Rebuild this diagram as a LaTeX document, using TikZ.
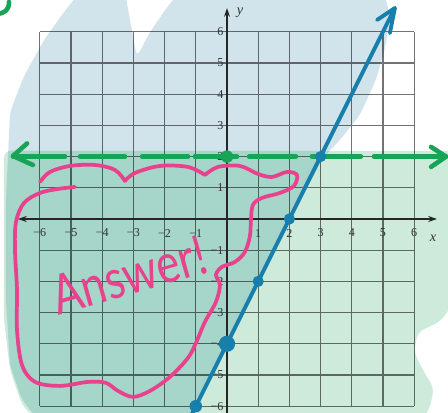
\documentclass[tikz,border=0pt]{standalone}
\usepackage{fontspec}
\setmainfont{Liberation Serif}
\newfontfamily\handfont{Lato}
\usetikzlibrary{arrows.meta}
\definecolor{bluewash}{RGB}{209,228,236}
\definecolor{greenwash}{RGB}{205,234,218}
\definecolor{tealwash}{RGB}{166,214,201}
\definecolor{lineblue}{RGB}{24,127,172}
\definecolor{dashgreen}{RGB}{24,164,86}
\definecolor{inkpink}{RGB}{232,66,140}
\definecolor{labelgray}{RGB}{50,50,50}
\tikzset{
  gridline/.style={black, draw opacity=0.55, line width=1.15pt},
  axisline/.style={black!85, line width=1pt},
  axistip/.style={arrows={-{Stealth[length=8pt,width=5.5pt]}}},
  ticklabel/.style={text=labelgray, font=\fontsize{11}{11}\selectfont, inner sep=0pt},
  axislabel/.style={text=labelgray, font=\fontsize{13}{13}\selectfont\itshape, inner sep=0pt},
  bluestroke/.style={lineblue, line width=3.6pt, line cap=round, line join=round},
  greenstroke/.style={dashgreen, line width=4.2pt, line cap=round, line join=round},
  pinkstroke/.style={inkpink, line width=3.4pt, line cap=round, line join=round},
  pxscope/.style={shift={(-7.276,7.019)}, x=0.032051cm, y=-0.032051cm},
  washshape/.style={rounded corners=6pt},
}
\begin{document}
\begin{tikzpicture}
\useasboundingbox (-7.276,-6.218) rectangle (7.083,7.019);
% ---------- watercolor washes ----------
\begin{scope}[pxscope]
  \fill[bluewash, washshape] (10,112) -- (24,76) -- (44,40) -- (64,12) -- (80,-8)
    -- (125,-8) -- (131,25) -- (137,57) -- (150,32) -- (168,6) -- (180,-8)
    -- (384,-8) -- (390,15) -- (386,45) -- (376,80) -- (360,115) -- (340,140)
    -- (323,158) -- (291,219) -- (229,344) -- (198,406) -- (192,422)
    -- (40,422) -- (22,400) -- (10,365) -- (6,300) -- (6,200) -- cycle;
  \fill[greenwash, washshape] (4,151) -- (456,151) -- (456,300) -- (440,322)
    -- (418,332) -- (414,352) -- (424,372) -- (434,388) -- (430,408) -- (420,424)
    -- (40,424) -- (22,405) -- (10,370) -- (4,320) -- cycle;
  \begin{scope}
    \clip[washshape] (10,112) -- (24,76) -- (44,40) -- (64,12) -- (80,-8)
      -- (125,-8) -- (131,25) -- (137,57) -- (150,32) -- (168,6) -- (180,-8)
      -- (384,-8) -- (390,15) -- (386,45) -- (376,80) -- (360,115) -- (340,140)
      -- (323,158) -- (291,219) -- (229,344) -- (198,406) -- (192,422)
      -- (40,422) -- (22,400) -- (10,365) -- (6,300) -- (6,200) -- cycle;
    \fill[tealwash, washshape] (4,151) -- (456,151) -- (456,300) -- (440,322)
      -- (418,332) -- (414,352) -- (424,372) -- (434,388) -- (430,408) -- (420,424)
      -- (40,424) -- (22,405) -- (10,370) -- (4,320) -- cycle;
  \end{scope}
\end{scope}
% ---------- grid and axes ----------
\draw[gridline] (-6,-6) grid (6,6);
\coordinate (xl) at (-6.7,0);
\coordinate (xr) at (6.73,0);
\coordinate (yb) at (0,-6.4);
\coordinate (yt) at (0,6.76);
\draw[axisline, arrows={{Stealth[length=8pt,width=5.5pt]}-{Stealth[length=8pt,width=5.5pt]}}] (xl) -- (xr);
\draw[axisline, axistip] (yb) -- (yt);
\foreach \k in {1,...,6} {
  \node[ticklabel] (xp\k) at (\k,-0.45) {\k};
  \node[ticklabel] (xn\k) at (-\k,-0.45) {−\k};
  \node[ticklabel, anchor=east] (yp\k) at (-0.11,\k) {\k};
  \node[ticklabel, anchor=east] (yn\k) at (-0.11,-\k) {−\k};
}
\node[axislabel] (xlab) at (6.6,-0.62) {x};
\node[axislabel] (ylab) at (0.42,6.62) {y};
% ---------- green dashed line y = 2 ----------
\foreach \a/\b in {-6.86/-5.19, -4.71/-3.27, -2.72/-1.25, -1.03/0.32, 0.71/2.21, 2.72/4.29, 4.71/7.02} {
  \draw[greenstroke] (\a,2) -- (\b,2);
}
\coordinate (gl) at (-6.86,2.02);
\coordinate (gla) at (-6.41,2.42);
\coordinate (glb) at (-6.22,1.73);
\coordinate (gr) at (7.02,2);
\coordinate (gra) at (6.54,2.31);
\coordinate (grb) at (6.54,1.67);
\draw[greenstroke] (gla) -- (gl) -- (glb);
\draw[greenstroke] (gra) -- (gr) -- (grb);
\coordinate (gdot) at (0,2);
\fill[dashgreen] (gdot) circle (0.2);
% ---------- pink outline and text ----------
\begin{scope}[pxscope]
  \draw[greenstroke] (9,2) .. controls (9,10) and (5,13) .. (-3,14);
  \draw[pinkstroke]
    plot[smooth, tension=0.55] coordinates {(40,182) (50,172) (70,166) (95,165) (115,170) (125,181)}
    -- plot[smooth, tension=0.55] coordinates {(125,181) (135,173) (160,166) (188,167) (205,175)}
    -- plot[smooth, tension=0.55] coordinates {(205,175) (218,167) (240,166) (258,174) (272,177)
      (287,172) (297,175) (294,186) (280,193) (262,198) (253,205) (251,220) (250,236)
      (245,252) (235,262) (222,267) (216,275) (220,285) (216,302) (205,322) (196,343)
      (188,358) (170,377) (150,391) (133,397) (118,391) (106,383) (88,382) (60,386)
      (35,382) (22,365) (17,330) (17,290) (15,250) (16,222) (24,203) (40,193) (58,189) (75,187)};
  \node[text=inkpink, font=\handfont\fontsize{40}{40}\selectfont, inner sep=0pt,
        rotate=16, yscale=1.25] (answer) at (129,275) {Answer!};
\end{scope}
% ---------- blue line y = 2x - 4 ----------
\coordinate (bstart) at (-1.2,-6.4);
\coordinate (btip) at (5.38,6.76);
\coordinate (bba) at (4.81,6.38);
\coordinate (bbb) at (5.22,5.96);
\draw[bluestroke] (bstart) -- (btip);
\draw[bluestroke] (bba) -- (btip) -- (bbb);
\coordinate (p1) at (-1,-6);
\coordinate (p2) at (0,-4);
\coordinate (p3) at (1,-2);
\coordinate (p4) at (2,0);
\coordinate (p5) at (3,2);
\fill[lineblue] (p1) circle (0.2);
\fill[lineblue] (p2) circle (0.26);
\fill[lineblue] (p3) circle (0.18);
\fill[lineblue] (p4) circle (0.18);
\fill[lineblue] (p5) circle (0.18);
\end{tikzpicture}
\end{document}
